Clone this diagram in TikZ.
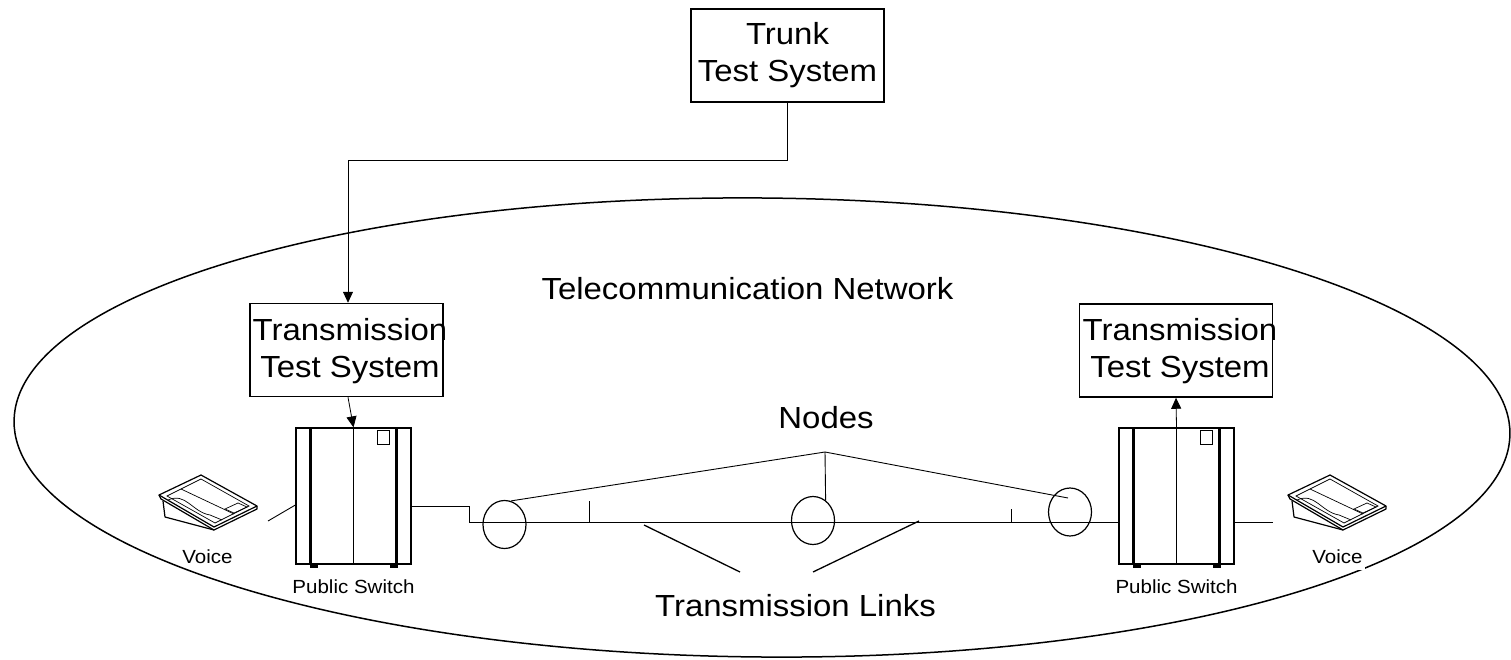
\documentclass[tikz,border=0pt]{standalone}
\usepackage{fontspec}
\newfontfamily\netfont[FakeStretch=1.08]{Liberation Sans}
\usepackage{tikz}
\usetikzlibrary{calc,positioning,shapes,arrows,arrows.meta}

\tikzset{
	lbl/.style={font=\netfont\fontsize{30.5}{37}\selectfont, align=center, inner sep=0pt},
	tag/.style={font=\netfont\fontsize{19}{23}\selectfont, inner sep=2pt},
	sysbox/.style={draw, line width=1.5pt, minimum width=193pt, minimum height=93pt, inner sep=0pt},
	switch/.style={draw, line width=1.2pt, minimum width=115pt, minimum height=136pt, inner sep=0pt},
	nd/.style={draw, ellipse, line width=1.2pt, minimum width=43pt, minimum height=48pt, inner sep=0pt},
	arr/.style={line width=0.8pt, -{Triangle[length=11pt,width=10pt]}},
	link/.style={line width=0.9pt},
	phone/.pic={
		\draw[line width=1.2pt, line join=round] (-49,-7) -- (-7,-27) -- (49,4) -- (6,25) -- cycle;
		\draw[line width=1.2pt, line join=round] (-49,-7) -- (-47,-3) -- (6,28) -- (49,7) -- (49,4);
		\draw[line width=1.2pt, line join=round] (-45,-1) -- (-43,15) -- (6,28);
		\draw[line width=0.7pt] (-41,-6) -- (-7,-23) -- (41,4) -- (7,21) -- cycle;
		\draw[line width=0.7pt] (-40,-2) .. controls (-22,-10) and (-16,10) .. (2,13) -- (14,18);
		\draw[line width=0.7pt] (-27,-13) -- (26,12);
		\draw[line width=0.7pt] (17,7) -- (30,1) -- (39,5) -- (26,11) -- cycle;
		\coordinate (-out) at (60,19);
		\coordinate (-in) at (-64,20);
	}
}

\begin{document}
\begin{tikzpicture}[x=1pt, y=-1pt]
	\useasboundingbox (0,0) rectangle (1511,660);

	% the network
	\draw[line width=1.5pt, rotate around={-0.5:(762,427.5)}] (762,427.5) ellipse [x radius=748pt, y radius=229.5pt];
	\node[lbl, anchor=base] (net) at (747.5,299) {Telecommunication Network};

	% test systems
	\node[sysbox, lbl] (trunk) at (787.5,55.5) {Trunk\\Test System};
	\node[sysbox] (ttsL) at (346.5,350) {};
	\node[lbl] (ttsLtxt) at (350,351.5) {Transmission\\Test System};
	\node[sysbox] (ttsR) at (1176,350.5) {};
	\node[lbl] (ttsRtxt) at (1180,351.5) {Transmission\\Test System};

	% switches
	\node[switch] (swL) at (353.5,496) {};
	\node[switch] (swR) at (1176.5,496) {};
	\foreach \s in {swL,swR}{
		\draw (\s.north) -- (\s.south);
		\draw[line width=2.6pt] ([xshift=-43pt]\s.north) -- ([xshift=-43pt]\s.south);
		\draw[line width=2.6pt] ([xshift=43pt]\s.north) -- ([xshift=43pt]\s.south);
		\draw[line width=0.9pt] ([shift={(24,3)}]\s.north) rectangle ([shift={(36,17)}]\s.north);
		\fill ([shift={(-44,0)}]\s.south) rectangle ([shift={(-36,3)}]\s.south);
		\fill ([shift={(36,0)}]\s.south) rectangle ([shift={(44,3)}]\s.south);
	}
	\node[tag, anchor=base] (psL) at ([yshift=-29pt]swL.south) {Public Switch};
	\node[tag, anchor=base] (psR) at ([yshift=-29pt]swR.south) {Public Switch};

	% phones
	\pic (phL) at (208,502) {phone};
	\pic (phR) at (1337,502) {phone};
	\node[tag, anchor=base] (voiceL) at (207.5,563) {Voice};
	\node[tag, anchor=base, fill=white, text depth=5pt] (voiceR) at (1337.5,563) {Voice};

	% transmission nodes
	\node[nd] (c1) at (504.5,524.5) {};
	\node[nd] (c2) at (813,520.5) {};
	\node[nd] (c3) at (1070,512) {};

	% connections
	\draw[arr] (trunk.south) -- ++(0,58) -| ([xshift=1.5pt]ttsL.north);
	\draw[arr] ([xshift=1.5pt]ttsL.south) -- (swL.north);
	\draw[arr] (swR.north) -- (ttsR.south);
	\draw[link] (phL-out) -- ([yshift=-9pt]swL.west);
	\draw[link] ([yshift=-26pt]swR.east) -- (phR-in);
	\draw[link] ([yshift=-10pt]swL.east) -- ++(58,0) |- ([yshift=-26pt]swR.west);
	\draw[link] (589,522) -- ++(0,-21);
	\draw[link] (1011,522) -- ++(0,-13);

	% labels with pointers
	\node[lbl, anchor=base] (nodesl) at (826,428.5) {Nodes};
	\coordinate (apex) at ([shift={(-1,23.5)}]nodesl.base);
	\draw[link] (apex) -- (c1.75);
	\draw[link] (apex) -- (c2.58);
	\draw[link] (apex) -- ([shift={(-2,-14)}]c3.center);

	\node[lbl, anchor=base] (links) at (795.5,616) {Transmission Links};
	\draw[line width=1.3pt] ([shift={(-55.5,-44)}]links.base) -- (644,525);
	\draw[line width=1.3pt] ([shift={(17.5,-44)}]links.base) -- (919,521);
\end{tikzpicture}
\end{document}
